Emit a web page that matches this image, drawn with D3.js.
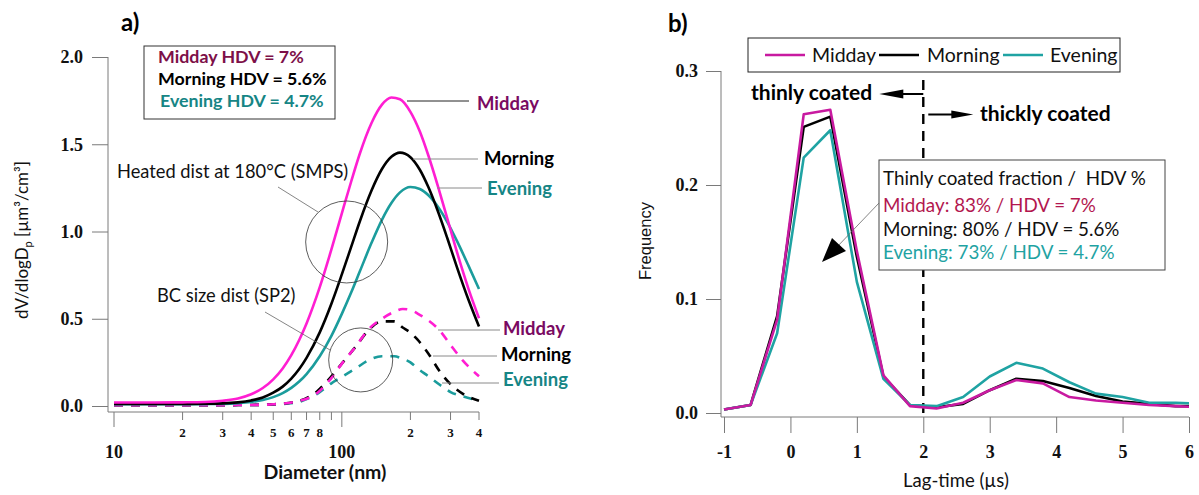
<!DOCTYPE html>
<html>
<head>
<meta charset="utf-8">
<script src="https://cdn.jsdelivr.net/npm/d3@7"></script>
<style>
  body { margin: 0; background: #fff; }
  svg { font-family: Lato, "Open Sans", sans-serif; }
</style>
</head>
<body>
<script>
// panel a) volume size distributions
const diam = [10, 15, 20, 25, 30, 35, 40, 45, 50, 55, 60, 65, 70, 80, 90, 100, 110, 120, 135, 150, 165, 180, 200, 220, 240, 265, 290, 320, 360, 400];
const smpsMidday  = [0.02, 0.02, 0.021, 0.023, 0.03, 0.043, 0.067, 0.103, 0.153, 0.215, 0.291, 0.378, 0.473, 0.681, 0.897, 1.104, 1.288, 1.447, 1.622, 1.727, 1.768, 1.758, 1.686, 1.573, 1.434, 1.253, 1.077, 0.883, 0.67, 0.503];
const smpsMorning = [0.012, 0.012, 0.012, 0.013, 0.015, 0.021, 0.032, 0.049, 0.076, 0.111, 0.157, 0.212, 0.276, 0.422, 0.586, 0.754, 0.913, 1.059, 1.235, 1.358, 1.428, 1.452, 1.426, 1.354, 1.253, 1.11, 0.964, 0.796, 0.607, 0.455];
const smpsEvening = [0.01, 0.01, 0.01, 0.011, 0.012, 0.016, 0.023, 0.034, 0.051, 0.074, 0.104, 0.14, 0.183, 0.285, 0.402, 0.528, 0.652, 0.772, 0.935, 1.067, 1.163, 1.224, 1.255, 1.244, 1.208, 1.139, 1.055, 0.946, 0.803, 0.67];

const sp2Diam = [10, 20, 30, 40, 50, 63, 78, 90, 101, 115, 130, 150, 170, 185, 200, 215, 240, 270, 300, 340, 400];
const sp2Midday  = [0.005, 0.005, 0.005, 0.006, 0.01, 0.025, 0.075, 0.16, 0.25, 0.34, 0.435, 0.5, 0.54, 0.556, 0.55, 0.53, 0.49, 0.43, 0.35, 0.26, 0.17];
const sp2Morning = [0.005, 0.005, 0.005, 0.006, 0.01, 0.025, 0.085, 0.17, 0.25, 0.34, 0.43, 0.485, 0.485, 0.45, 0.42, 0.38, 0.3, 0.195, 0.125, 0.07, 0.03];
const sp2Evening = [0.005, 0.005, 0.005, 0.006, 0.008, 0.02, 0.07, 0.13, 0.17, 0.215, 0.26, 0.285, 0.285, 0.27, 0.25, 0.215, 0.17, 0.12, 0.08, 0.055, 0.03];

const yTicksA = [0, 0.5, 1.0, 1.5, 2.0];
const minorA = [20, 30, 40, 50, 60, 70, 80, 90, 200, 300, 400];
const majorA = [10, 100];

// panel b) lag-time frequency
const lag = [-1, -0.6, -0.2, 0.2, 0.6, 1.0, 1.4, 1.8, 2.2, 2.6, 3.0, 3.4, 3.8, 4.2, 4.6, 5.0, 5.4, 5.8, 6.2];
const freqMidday  = [0.003, 0.007, 0.082, 0.262, 0.266, 0.142, 0.033, 0.006, 0.004, 0.009, 0.02, 0.029, 0.026, 0.014, 0.011, 0.009, 0.007, 0.006, 0.005];
const freqMorning = [0.003, 0.007, 0.085, 0.251, 0.26, 0.137, 0.032, 0.007, 0.005, 0.008, 0.02, 0.03, 0.028, 0.022, 0.015, 0.01, 0.008, 0.006, 0.006];
const freqEvening = [0.003, 0.007, 0.07, 0.224, 0.248, 0.115, 0.03, 0.007, 0.006, 0.014, 0.032, 0.044, 0.039, 0.027, 0.017, 0.014, 0.009, 0.009, 0.008];
const yTicksB = [0, 0.1, 0.2, 0.3];
const xTicksB = [-1, 0, 1, 2, 3, 4, 5, 6];

const seriesNames = ["Midday", "Morning", "Evening"];
const hdv = ["7%", "5.6%", "4.7%"];
const thinFrac = ["83%", "80%", "73%"];

const width = 1199, height = 495;
const svg = d3.select("body").append("svg").attr("width", width).attr("height", height);

const axisCol = "#7a7a7a";
const tickFont = "'Liberation Serif', 'DejaVu Serif', serif";
const magA = "#ff1ed2", tealA = "#1b9c9c";
const magB = "#c81aa0", tealB = "#1fa3a3";

// ---------- panel a ----------
const xA = d3.scaleLog().domain([10, 400]).range([114, 479]);
const yA = d3.scaleLinear().domain([0, 2]).range([406, 57]);
const gA = svg.append("g");

gA.append("line").attr("x1", 108).attr("x2", 108).attr("y1", yA(2)).attr("y2", 412).attr("stroke", axisCol);
gA.append("line").attr("x1", 108).attr("x2", xA(400)).attr("y1", 412).attr("y2", 412).attr("stroke", axisCol);

const yAxisA = gA.append("g").attr("transform", "translate(108,0)")
  .call(d3.axisLeft(yA).tickValues(yTicksA).tickFormat(d3.format(".1f")).tickSize(16).tickPadding(9));
yAxisA.select(".domain").remove();
yAxisA.selectAll("line").attr("stroke", axisCol);
yAxisA.selectAll("text").attr("font-size", 18).attr("font-weight", "bold").attr("fill", "#111")
  .attr("font-family", tickFont);

const xAxisA = gA.append("g").attr("transform", "translate(0,412)");
xAxisA.selectAll(".minor").data(minorA).join("line")
  .attr("x1", d => xA(d)).attr("x2", d => xA(d)).attr("y1", 0).attr("y2", 8).attr("stroke", axisCol);
xAxisA.selectAll(".major").data(majorA).join("line")
  .attr("x1", d => xA(d)).attr("x2", d => xA(d)).attr("y1", 0).attr("y2", 15).attr("stroke", axisCol);
xAxisA.selectAll(".mlab").data(minorA.filter(d => d !== 90)).join("text")
  .attr("x", d => xA(d)).attr("y", 25).attr("text-anchor", "middle")
  .attr("font-size", 13).attr("font-weight", "bold").attr("fill", "#111").attr("font-family", tickFont)
  .text(d => String(d).charAt(0));
xAxisA.selectAll(".Mlab").data(majorA).join("text")
  .attr("x", d => xA(d)).attr("y", 46).attr("text-anchor", "middle")
  .attr("font-size", 18).attr("font-weight", "bold").attr("fill", "#111").attr("font-family", tickFont)
  .text(d => d);

gA.append("text").attr("x", 325).attr("y", 479).attr("text-anchor", "middle")
  .attr("font-size", 19.5).attr("font-weight", "bold").attr("fill", "#111").text("Diameter (nm)");

const yLab = gA.append("text").attr("transform", "translate(28,240) rotate(-90)")
  .attr("text-anchor", "middle").attr("font-size", 17).attr("fill", "#111");
yLab.append("tspan").text("dV/dlogD");
yLab.append("tspan").attr("font-size", 11).attr("dy", 4).text("p");
yLab.append("tspan").attr("dy", -4).text(" [µm³/cm³]");

gA.append("text").attr("x", 121).attr("y", 31).attr("font-size", 24).attr("font-weight", "bold").text("a)");

// size distribution curves
const lineA = (xs) => d3.line().x((d, i) => xA(xs[i])).y(d => yA(d)).curve(d3.curveMonotoneX);

[[sp2Evening, tealA], [sp2Morning, "#000"], [sp2Midday, magA]].forEach(([vals, col]) => {
  gA.append("path").attr("d", lineA(sp2Diam)(vals)).attr("fill", "none")
    .attr("stroke", col).attr("stroke-width", 2.6).attr("stroke-dasharray", "9,8");
});
[[smpsEvening, tealA], [smpsMorning, "#000"], [smpsMidday, magA]].forEach(([vals, col]) => {
  gA.append("path").attr("d", lineA(diam)(vals)).attr("fill", "none")
    .attr("stroke", col).attr("stroke-width", 2.6);
});

// HDV box
gA.append("rect").attr("x", 144).attr("y", 46).attr("width", 191).attr("height", 73)
  .attr("fill", "#fff").attr("stroke", "#333").attr("stroke-width", 1);
const hdvCol = ["#7d1048", "#000", "#168585"];
seriesNames.forEach((s, i) => {
  gA.append("text").attr("x", 158 + (i === 2 ? 2 : 0)).attr("y", 63 + i * 22)
    .attr("font-size", 17.8).attr("font-weight", "bold").attr("fill", hdvCol[i])
    .text(`${s} HDV = ${hdv[i]}`);
});

// curve labels with leaders
const labCol = ["#7a0a62", "#000", "#168585"];
const upperLab = [[407, 469, 101, 477, 104], [413, 478, 159, 484, 159], [437, 482, 188, 487, 189]];
const lowerLab = [[438, 500, 330, 503, 329], [433, 497, 356, 501, 355], [442, 499, 383, 503, 380]];
[upperLab, lowerLab].forEach(set => {
  set.forEach(([x1, x2, ly, tx, ty], i) => {
    gA.append("line").attr("x1", x1).attr("x2", x2).attr("y1", ly).attr("y2", ly)
      .attr("stroke", i === 0 && set === upperLab ? "#222" : "#8a8a8a").attr("stroke-width", 1);
    gA.append("text").attr("x", tx).attr("y", ty).attr("dy", "0.35em")
      .attr("font-size", 18.5).attr("font-weight", "bold").attr("fill", labCol[i]).text(seriesNames[i]);
  });
});

// circled groups
gA.append("circle").attr("cx", xA(105)).attr("cy", yA(0.94)).attr("r", 41)
  .attr("fill", "none").attr("stroke", "#333").attr("stroke-width", 0.8);
gA.append("line").attr("x1", 278).attr("y1", 187).attr("x2", 318).attr("y2", 212).attr("stroke", "#666").attr("stroke-width", 0.8);
gA.append("text").attr("x", 117).attr("y", 178).attr("font-size", 18.3).attr("fill", "#111").text("Heated dist at 180°C (SMPS)");

gA.append("circle").attr("cx", xA(121)).attr("cy", yA(0.264)).attr("r", 32)
  .attr("fill", "none").attr("stroke", "#333").attr("stroke-width", 0.8);
gA.append("line").attr("x1", 265).attr("y1", 312).attr("x2", 330).attr("y2", 350).attr("stroke", "#666").attr("stroke-width", 0.8);
gA.append("text").attr("x", 157).attr("y", 302).attr("font-size", 18.3).attr("fill", "#111").text("BC size dist (SP2)");

// ---------- panel b ----------
const xB = d3.scaleLinear().domain([-1, 6]).range([724, 1189]);
const yB = d3.scaleLinear().domain([0, 0.3]).range([413, 71]);
const gB = svg.append("g");

svg.append("clipPath").attr("id", "clipB").append("rect")
  .attr("x", 721).attr("y", 20).attr("width", xB(6) - 721).attr("height", 400);

gB.append("line").attr("x1", 721).attr("x2", 721).attr("y1", yB(0.3)).attr("y2", 417).attr("stroke", axisCol);
gB.append("line").attr("x1", 721).attr("x2", xB(6)).attr("y1", 417).attr("y2", 417).attr("stroke", axisCol);

const yAxisB = gB.append("g").attr("transform", "translate(721,0)")
  .call(d3.axisLeft(yB).tickValues(yTicksB).tickFormat(d3.format(".1f")).tickSize(15).tickPadding(8));
yAxisB.select(".domain").remove();
yAxisB.selectAll("line").attr("stroke", axisCol);
yAxisB.selectAll("text").attr("font-size", 18).attr("font-weight", "bold").attr("fill", "#111")
  .attr("font-family", tickFont);

const xAxisB = gB.append("g").attr("transform", "translate(0,417)")
  .call(d3.axisBottom(xB).tickValues(xTicksB).tickFormat(d => String(d)).tickSize(16).tickPadding(12));
xAxisB.select(".domain").remove();
xAxisB.selectAll("line").attr("stroke", axisCol);
xAxisB.selectAll("text").attr("font-size", 18).attr("font-weight", "bold").attr("fill", "#111")
  .attr("font-family", tickFont);

gB.append("text").attr("x", 956).attr("y", 487).attr("text-anchor", "middle")
  .attr("font-size", 18.5).attr("fill", "#111").text("Lag-time (µs)");
gB.append("text").attr("transform", "translate(651,241) rotate(-90)").attr("text-anchor", "middle")
  .attr("font-size", 16.5).attr("fill", "#111").attr("font-family", "Liberation Sans").text("Frequency");
gB.append("text").attr("x", 668).attr("y", 32).attr("font-size", 24).attr("font-weight", "bold").text("b)");

// thin / thick separator at 2 µs
gB.append("line").attr("x1", xB(2)).attr("x2", xB(2)).attr("y1", 80).attr("y2", yB(0))
  .attr("stroke", "#000").attr("stroke-width", 2.4).attr("stroke-dasharray", "10,7");

const lineB = d3.line().x((d, i) => xB(lag[i])).y(d => yB(d));
const plotB = gB.append("g").attr("clip-path", "url(#clipB)");
[[freqMorning, "#000"], [freqEvening, tealB], [freqMidday, magB]].forEach(([vals, col]) => {
  plotB.append("path").attr("d", lineB(vals)).attr("fill", "none")
    .attr("stroke", col).attr("stroke-width", 2.6).attr("stroke-linejoin", "round");
});

// coating arrows
const x2 = xB(2);
gB.append("line").attr("x1", x2).attr("x2", x2 - 22).attr("y1", 94).attr("y2", 94).attr("stroke", "#000").attr("stroke-width", 2);
gB.append("path").attr("d", `M${x2 - 44},94 L${x2 - 20},89.5 L${x2 - 20},98.5 Z`).attr("fill", "#000");
gB.append("text").attr("x", 751).attr("y", 100).attr("font-size", 21).attr("font-weight", "bold").text("thinly coated");

gB.append("line").attr("x1", x2 + 5).attr("x2", x2 + 30).attr("y1", 114.5).attr("y2", 114.5).attr("stroke", "#000").attr("stroke-width", 2);
gB.append("path").attr("d", `M${x2 + 50},114.5 L${x2 + 28},110.5 L${x2 + 28},118.5 Z`).attr("fill", "#000");
gB.append("text").attr("x", 980).attr("y", 121).attr("font-size", 21).attr("font-weight", "bold").text("thickly coated");

// legend
gB.append("rect").attr("x", 748).attr("y", 38).attr("width", 372).attr("height", 34)
  .attr("fill", "#fff").attr("stroke", "#222");
const legX = [[765, 805, 812], [879, 919, 927], [1003, 1043, 1050]];
[magB, "#000", tealB].forEach((col, i) => {
  gB.append("line").attr("x1", legX[i][0]).attr("x2", legX[i][1]).attr("y1", 55).attr("y2", 55)
    .attr("stroke", col).attr("stroke-width", 2.6);
  gB.append("text").attr("x", legX[i][2]).attr("y", 55).attr("dy", "0.35em")
    .attr("font-size", 19.5).attr("fill", "#111").text(seriesNames[i]);
});

// thinly coated fraction box
gB.append("rect").attr("x", 879).attr("y", 160).attr("width", 286).attr("height", 110)
  .attr("fill", "#fff").attr("stroke", "#444");
gB.append("text").attr("x", 883).attr("y", 185).attr("font-size", 18.8).attr("fill", "#111")
  .text("Thinly coated fraction /\u00a0 HDV %");
const fracCol = ["#b3174f", "#111", "#1fa3a3"];
seriesNames.forEach((s, i) => {
  gB.append("text").attr("x", 883).attr("y", 212 + i * 23.5).attr("font-size", 18.8).attr("fill", fracCol[i])
    .text(`${s}: ${thinFrac[i]} / HDV = ${hdv[i]}`);
});
gB.append("line").attr("x1", 879).attr("y1", 203).attr("x2", 836).attr("y2", 248)
  .attr("stroke", "#666").attr("stroke-width", 0.8);
gB.append("path").attr("d", "M822,262 L832,238 L846,251 Z").attr("fill", "#000");
</script>
</body>
</html>
